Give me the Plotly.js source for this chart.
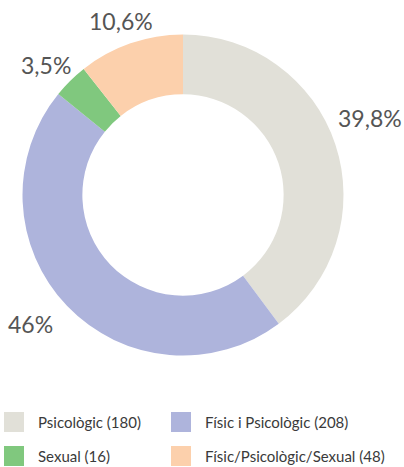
<!DOCTYPE html>
<html>
<head>
<meta charset="utf-8">
<script src="https://cdn.plot.ly/plotly-3.0.1.min.js"></script>
<style>html,body{margin:0;padding:0;background:#fff;}#chart{width:404px;height:467px;}</style>
</head>
<body>
<div id="chart"></div>
<script>
const categories = ['Psicològic', 'Físic i Psicològic', 'Sexual', 'Físic/Psicològic/Sexual'];
const values = [180, 208, 16, 48];
const colors = ['#e1e0d8', '#aeb4dc', '#80c87e', '#fcd0ac'];

const total = values.reduce((a, b) => a + b, 0);
const pctText = values.map(v => {
  let s = (v / total * 100).toFixed(1);
  if (s.endsWith('.0')) s = s.slice(0, -2);
  return s.replace('.', ',') + '%';
});

const W = 404, H = 467;
const FONT = 'Lato, sans-serif';
const trace = {
  type: 'pie',
  labels: categories,
  values: values,
  hole: 0.627,
  sort: false,
  direction: 'clockwise',
  rotation: 0,
  marker: {colors: colors, line: {width: 0}},
  textinfo: 'none',
  domain: {x: [22 / W, 344 / W], y: [1 - 355.5 / H, 1 - 34.5 / H]},
  showlegend: false,
  automargin: false,
  hoverinfo: 'label+value+percent'
};

// percentage labels placed outside the ring (pixel centres)
const labelPos = [[370, 118], [30, 324], [45.5, 65], [121, 21]];
const shapes = [], annotations = [];
pctText.forEach((t, i) => {
  annotations.push({xref: 'paper', yref: 'paper',
    x: labelPos[i][0] / W, y: 1 - labelPos[i][1] / H,
    xanchor: 'center', yanchor: 'middle', showarrow: false, text: t,
    font: {family: FONT, size: 23, color: '#555555'}});
});

// custom legend built from the category arrays
const colX = [4, 171], rowY = [422, 456], sq = 20;
categories.forEach((c, i) => {
  const col = i % 2, row = Math.floor(i / 2);
  const x0 = colX[col], yc = rowY[row];
  shapes.push({type: 'rect', xref: 'paper', yref: 'paper',
    x0: x0 / W, x1: (x0 + sq) / W, y0: 1 - (yc + sq / 2) / H, y1: 1 - (yc - sq / 2) / H,
    fillcolor: colors[i], line: {width: 0}});
  annotations.push({xref: 'paper', yref: 'paper', x: (x0 + 32) / W, y: 1 - yc / H,
    xanchor: 'left', yanchor: 'middle', showarrow: false,
    text: c + ' (' + values[i] + ')',
    font: {family: FONT, size: 15, color: '#3a3a3a'}});
});

Plotly.newPlot('chart', [trace], {
  width: W, height: H,
  margin: {l: 0, r: 0, t: 0, b: 0},
  paper_bgcolor: '#ffffff',
  shapes: shapes,
  annotations: annotations
}, {displayModeBar: false, staticPlot: true});
</script>
</body>
</html>
